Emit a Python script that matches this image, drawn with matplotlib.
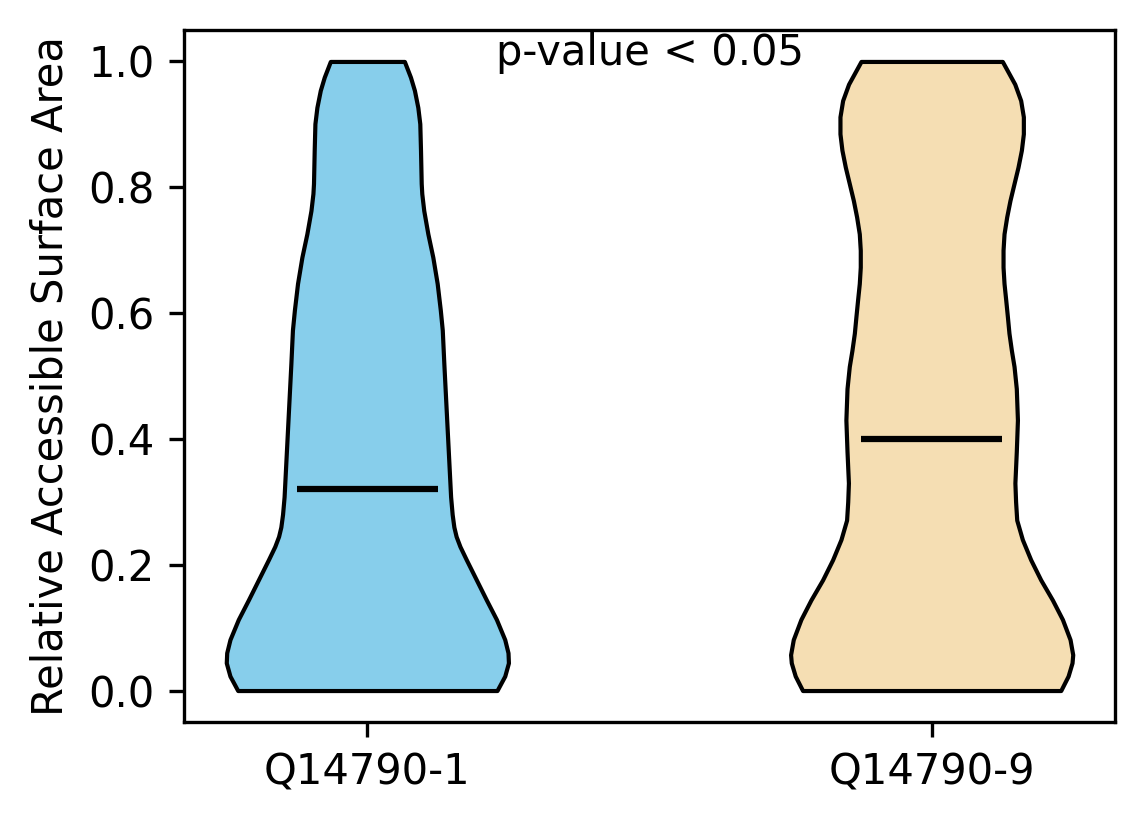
import matplotlib
matplotlib.use("Agg")
import matplotlib.pyplot as plt

# isoform names and medians
isoforms = ["Q14790-1", "Q14790-9"]
medians = [0.32, 0.40]
colors = ["skyblue", "wheat"]

# density profiles (RSA value, relative density)
rsa_1 = [0.0, 0.023, 0.044, 0.060, 0.081, 0.113, 0.144, 0.176, 0.208, 0.229,
         0.245, 0.260, 0.280, 0.308, 0.361, 0.414, 0.467, 0.520, 0.573, 0.605,
         0.647, 0.689, 0.726, 0.763, 0.790, 0.806, 0.859, 0.901, 0.927, 0.954,
         0.975, 1.0]
dens_1 = [0.917, 0.972, 0.998, 0.995, 0.972, 0.913, 0.842, 0.771, 0.700, 0.655,
          0.628, 0.612, 0.600, 0.589, 0.577, 0.565, 0.553, 0.541, 0.530, 0.516,
          0.494, 0.463, 0.428, 0.399, 0.385, 0.381, 0.376, 0.371, 0.357, 0.333,
          0.305, 0.262]

rsa_2 = [0.0, 0.023, 0.044, 0.057, 0.081, 0.113, 0.144, 0.176, 0.208, 0.240,
         0.271, 0.300, 0.330, 0.380, 0.430, 0.480, 0.515, 0.541, 0.568, 0.594,
         0.621, 0.647, 0.673, 0.700, 0.726, 0.753, 0.779, 0.806, 0.832, 0.859,
         0.885, 0.912, 0.938, 0.964, 1.0]
dens_2 = [0.915, 0.967, 0.995, 1.0, 0.981, 0.927, 0.856, 0.773, 0.702, 0.643,
          0.603, 0.595, 0.590, 0.600, 0.608, 0.600, 0.584, 0.565, 0.548, 0.537,
          0.525, 0.513, 0.506, 0.506, 0.513, 0.532, 0.555, 0.584, 0.612, 0.636,
          0.650, 0.650, 0.631, 0.589, 0.501]

stats = []
for rsa, dens, med in [(rsa_1, dens_1, medians[0]), (rsa_2, dens_2, medians[1])]:
    stats.append({"coords": rsa, "vals": dens, "mean": med, "median": med,
                  "min": min(rsa), "max": max(rsa)})

fig = plt.figure(figsize=(1144 / 300, 824 / 300), dpi=300)
ax = fig.add_subplot(111)
fig.subplots_adjust(left=0.1608, right=0.9747, top=0.9636, bottom=0.1238)

parts = ax.violin(stats, positions=[1, 2], widths=0.5,
                  showmedians=True, showextrema=False)
for body, c in zip(parts["bodies"], colors):
    body.set_facecolor(c)
    body.set_edgecolor("black")
    body.set_alpha(1)
    body.set_linewidth(1)
    body.set_joinstyle("round")
parts["cmedians"].set_color("black")
parts["cmedians"].set_linewidth(1.5)

ax.set_xticks([1, 2])
ax.set_xticklabels(isoforms)
ax.set_ylabel("Relative Accessible Surface Area")
ax.text(0.5, 0.95, "p-value < 0.05", ha="center", transform=ax.transAxes)

plt.savefig("out.png", dpi=300)
